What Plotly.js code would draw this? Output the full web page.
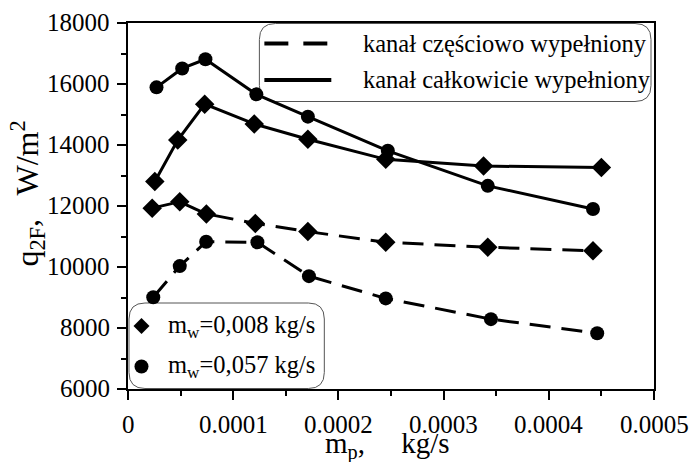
<!DOCTYPE html>
<html>
<head>
<meta charset="utf-8">
<script src="https://cdn.plot.ly/plotly-3.0.1.min.js"></script>
<style>
html,body{margin:0;padding:0;background:#fff;}
#chart{width:692px;height:462px;}
</style>
</head>
<body>
<div id="chart"></div>
<script>
// ---- data ----
const xDiaFull = [0.0000255, 0.0000473, 0.0000729, 0.000120, 0.000171, 0.000245, 0.000338, 0.000450];
const yDiaFull = [12800, 14160, 15340, 14690, 14190, 13530, 13310, 13260];
const xCirFull = [0.0000271, 0.0000515, 0.0000736, 0.000122, 0.000171, 0.000247, 0.000342, 0.000442];
const yCirFull = [15890, 16510, 16810, 15660, 14930, 13810, 12660, 11900];
const xDiaPart = [0.000023, 0.0000492, 0.0000745, 0.000121, 0.000171, 0.000245, 0.000342, 0.000442];
const yDiaPart = [11930, 12140, 11740, 11430, 11160, 10810, 10650, 10530];
const xCirPart = [0.000024, 0.0000492, 0.0000743, 0.000123, 0.000172, 0.000245, 0.000345, 0.000446];
const yCirPart = [9010, 10030, 10830, 10810, 9700, 8970, 8290, 7830];

const xTickVals = [0, 0.0001, 0.0002, 0.0003, 0.0004, 0.0005];
const xTickText = ["0", "0.0001", "0.0002", "0.0003", "0.0004", "0.0005"];
const yTickVals = [6000, 8000, 10000, 12000, 14000, 16000, 18000];
const yTickText = ["6000", "8000", "10000", "12000", "14000", "16000", "18000"];

const lineLegend = ["kanał częściowo wypełniony", "kanał całkowicie wypełniony"];
const markerLegend = ["m<sub>w</sub>=0,008 kg/s", "m<sub>w</sub>=0,057 kg/s"];
const xTitle = "m<sub>p</sub>,     kg/s";
const yTitle = "q<sub>2F</sub>,   W/m<sup>2</sup>";

// ---- layout geometry ----
const W = 692, H = 462;
const L = 127.5, R = 654, T = 23, B = 389;
const px = x => (x - L) / (R - L);
const py = y => (B - y) / (B - T);
const serif = "Liberation Serif";

function roundRect(x0, y0, x1, y1, r) {
  const rx = r / (R - L), ry = r / (B - T);
  const a = px(x0), b = px(x1), c = py(y0), d = py(y1); // c top, d bottom
  return `M ${a + rx} ${c} L ${b - rx} ${c} Q ${b} ${c} ${b} ${c - ry} L ${b} ${d + ry} Q ${b} ${d} ${b - rx} ${d} ` +
         `L ${a + rx} ${d} Q ${a} ${d} ${a} ${d + ry} L ${a} ${c - ry} Q ${a} ${c} ${a + rx} ${c} Z`;
}

const LW = 3;
const dashStyle = "21px,11px";
const diaSize = 15, cirSize = 14;

const traces = [
  {x: xDiaPart, y: yDiaPart, mode: "lines+markers", line: {color: "#000", width: LW, dash: dashStyle},
   marker: {symbol: "diamond", size: diaSize, color: "#000"}, showlegend: false, name: "part 0.008"},
  {x: xCirPart, y: yCirPart, mode: "lines+markers", line: {color: "#000", width: LW, dash: dashStyle},
   marker: {symbol: "circle", size: cirSize, color: "#000"}, showlegend: false, name: "part 0.057"},
  {x: xDiaFull, y: yDiaFull, mode: "lines+markers", line: {color: "#000", width: LW},
   marker: {symbol: "diamond", size: diaSize, color: "#000"}, showlegend: false, name: "full 0.008"},
  {x: xCirFull, y: yCirFull, mode: "lines+markers", line: {color: "#000", width: LW},
   marker: {symbol: "circle", size: cirSize, color: "#000"}, showlegend: false, name: "full 0.057"}
];

const shapes = [
  // legend boxes
  {type: "path", xref: "paper", yref: "paper", path: roundRect(259, 23.5, 651, 101.5, 16),
   line: {color: "#555", width: 1}, fillcolor: "rgba(0,0,0,0)", layer: "below"},
  {type: "path", xref: "paper", yref: "paper", path: roundRect(128.5, 303, 324, 388.5, 16),
   line: {color: "#555", width: 1}, fillcolor: "rgba(0,0,0,0)", layer: "below"},
  // line samples
  {type: "line", xref: "paper", yref: "paper", x0: px(264), x1: px(288), y0: py(43.5), y1: py(43.5), line: {color: "#000", width: 4}},
  {type: "line", xref: "paper", yref: "paper", x0: px(303), x1: px(327), y0: py(43.5), y1: py(43.5), line: {color: "#000", width: 4}},
  {type: "line", xref: "paper", yref: "paper", x0: px(264), x1: px(331), y0: py(80), y1: py(80), line: {color: "#000", width: 4}},
  // marker samples
  {type: "path", xref: "paper", yref: "paper", xsizemode: "pixel", ysizemode: "pixel",
   xanchor: px(141), yanchor: py(326), path: "M 0 8 L 8 0 L 0 -8 L -8 0 Z",
   line: {color: "#000", width: 0}, fillcolor: "#000"},
  {type: "circle", xref: "paper", yref: "paper", xsizemode: "pixel", ysizemode: "pixel",
   xanchor: px(141), yanchor: py(366.5), x0: -7, x1: 7, y0: -7, y1: 7,
   line: {color: "#000", width: 0}, fillcolor: "#000"}
];

const annFont = {family: serif, size: 24.5, color: "#000"};
const tickFont = {family: serif, size: 25, color: "#000"};
const annotations = [
  {xref: "paper", yref: "paper", x: px(361), y: py(43.5), xanchor: "left", yanchor: "middle", text: lineLegend[0], showarrow: false, font: annFont},
  {xref: "paper", yref: "paper", x: px(361), y: py(80), xanchor: "left", yanchor: "middle", text: lineLegend[1], showarrow: false, font: annFont},
  {xref: "paper", yref: "paper", x: px(166), y: py(326), xanchor: "left", yanchor: "middle", text: markerLegend[0], showarrow: false, font: annFont},
  {xref: "paper", yref: "paper", x: px(166), y: py(366.5), xanchor: "left", yanchor: "middle", text: markerLegend[1], showarrow: false, font: annFont},
  {xref: "paper", yref: "paper", x: px(26), y: py(194), xanchor: "center", yanchor: "middle", textangle: -90, text: yTitle, showarrow: false, font: {family: serif, size: 32, color: "#000"}},
  {xref: "paper", yref: "paper", x: px(387), y: py(445), xanchor: "center", yanchor: "middle", text: xTitle, showarrow: false, font: {family: serif, size: 29, color: "#000"}}
];
xTickVals.forEach((v, i) => annotations.push({
  xref: "x", yref: "paper", x: v, y: py(424), xanchor: "center", yanchor: "middle",
  text: xTickText[i], showarrow: false, font: tickFont
}));
yTickVals.forEach((v, i) => annotations.push({
  xref: "paper", yref: "y", x: px(111), y: v, xanchor: "right", yanchor: "middle", yshift: 1,
  text: yTickText[i], showarrow: false, font: tickFont
}));

const layout = {
  width: W, height: H,
  margin: {l: L, r: W - R, t: T, b: H - B, pad: 0},
  paper_bgcolor: "#fff", plot_bgcolor: "#fff",
  font: {family: serif, color: "#000"},
  showlegend: false,
  xaxis: {
    range: [0, 0.0005], tickvals: xTickVals, showticklabels: false,
    showgrid: false, zeroline: false, showline: true, linecolor: "#000", linewidth: 2, mirror: true,
    ticks: "outside", ticklen: 9, tickwidth: 2, tickcolor: "#000",
    minor: {dtick: 0.00005, ticks: "outside", ticklen: 5, tickwidth: 2, tickcolor: "#000"}
  },
  yaxis: {
    range: [6000, 18000], tickvals: yTickVals, showticklabels: false,
    showgrid: false, zeroline: false, showline: true, linecolor: "#000", linewidth: 2, mirror: true,
    ticks: "outside", ticklen: 9, tickwidth: 2, tickcolor: "#000",
    minor: {dtick: 1000, ticks: "outside", ticklen: 5, tickwidth: 2, tickcolor: "#000"}
  },
  shapes: shapes,
  annotations: annotations
};

Plotly.newPlot("chart", traces, layout, {displayModeBar: false, staticPlot: true});
</script>
</body>
</html>
